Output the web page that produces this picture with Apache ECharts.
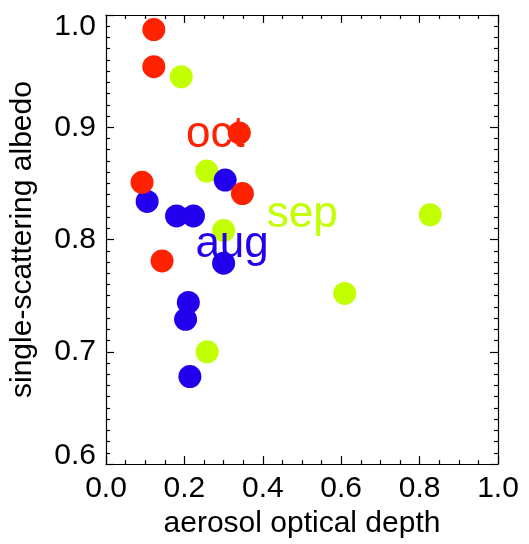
<!DOCTYPE html>
<html>
<head>
<meta charset="utf-8">
<title>single-scattering albedo vs aerosol optical depth</title>
<script src="https://cdn.jsdelivr.net/npm/echarts@6/dist/echarts.min.js"></script>
<style>
  html, body { margin: 0; padding: 0; background: #ffffff; }
  #chart { width: 529px; height: 544px; }
</style>
</head>
<body>
<div id="chart"></div>
<script>
// aerosol optical depth / single-scattering albedo, per month
const augX = [0.304, 0.105, 0.180, 0.223, 0.300, 0.210, 0.203, 0.214];
const augY = [0.853, 0.834, 0.821, 0.821, 0.779, 0.744, 0.729, 0.678];
const sepX = [0.192, 0.257, 0.300, 0.827, 0.609, 0.258];
const sepY = [0.945, 0.861, 0.808, 0.822, 0.752, 0.700];
const octX = [0.122, 0.122, 0.340, 0.092, 0.348, 0.143];
const octY = [0.987, 0.954, 0.895, 0.851, 0.841, 0.781];

// month labels written inside the plot
const labelNames = ['aug', 'sep', 'oct'];
const labelX = [0.228, 0.410, 0.204];
const labelY = [0.795, 0.822, 0.893];

const xTicks = [0, 0.2, 0.4, 0.6, 0.8, 1.0];
const yTicks = [0.6, 0.7, 0.8, 0.9, 1.0];

const RED = '#ff2200';
const GREEN = '#c2ff00';
const BLUE = '#2200ee';
const FONT = '"Liberation Sans", Arial, Helvetica, sans-serif';

const pairs = (xs, ys) => xs.map((x, i) => [x, ys[i]]);

const chart = echarts.init(document.getElementById('chart'), null, { renderer: 'canvas' });

function makeX(pos, showLabels) {
  return {
    type: 'value',
    position: pos,
    min: xTicks[0],
    max: xTicks[xTicks.length - 1],
    interval: 0.2,
    splitLine: { show: false },
    axisLine: { show: true, onZero: false, lineStyle: { color: '#000', width: 1.2 } },
    axisTick: { show: true, inside: true, length: 8, lineStyle: { color: '#000', width: 1.2 } },
    minorTick: { show: true, splitNumber: 4, length: 4, lineStyle: { color: '#000', width: 1.2 } },
    axisLabel: {
      show: showLabels,
      margin: 10,
      fontSize: 30,
      fontFamily: FONT,
      color: '#000',
      formatter: v => v.toFixed(1)
    },
    name: showLabels ? 'aerosol optical depth' : '',
    nameLocation: 'middle',
    nameGap: 43,
    nameTextStyle: { fontSize: 30, fontFamily: FONT, color: '#000' }
  };
}

function makeY(pos, showLabels) {
  return {
    type: 'value',
    position: pos,
    min: yTicks[0],
    max: yTicks[yTicks.length - 1],
    interval: 0.1,
    splitLine: { show: false },
    axisLine: { show: true, onZero: false, lineStyle: { color: '#000', width: 1.2 } },
    axisTick: { show: true, inside: true, length: 8, lineStyle: { color: '#000', width: 1.2 } },
    minorTick: { show: true, splitNumber: 10, length: 4, lineStyle: { color: '#000', width: 1.2 } },
    axisLabel: {
      show: showLabels,
      margin: 10,
      fontSize: 30,
      fontFamily: FONT,
      color: '#000',
      formatter: v => {
        const s = v.toFixed(1);
        if (v > 0.999) return '{top|' + s + '}';
        if (v < 0.601) return '{bot|' + s + '}';
        return s;
      },
      rich: {
        top: { fontSize: 30, fontFamily: FONT, color: '#000', padding: [24, 0, 0, 0] },
        bot: { fontSize: 30, fontFamily: FONT, color: '#000', padding: [0, 0, 16, 0] }
      }
    },
    name: showLabels ? 'single-scattering albedo' : '',
    nameLocation: 'middle',
    nameGap: 68,
    nameTextStyle: { fontSize: 30, fontFamily: FONT, color: '#000' }
  };
}

function dots(data, color, z) {
  return {
    type: 'scatter',
    data: data,
    symbol: 'circle',
    symbolSize: 23,
    z: z,
    itemStyle: { color: color, opacity: 1 },
    emphasis: { disabled: true },
    silent: true
  };
}

const labelColors = [BLUE, GREEN, RED];

const option = {
  animation: false,
  backgroundColor: '#ffffff',
  grid: { left: 106, right: 31, top: 15, bottom: 77 },
  xAxis: [makeX('bottom', true), makeX('top', false)],
  yAxis: [makeY('left', true), makeY('right', false)],
  series: [
    dots(pairs(sepX, sepY), GREEN, 2),
    dots(pairs(augX, augY), BLUE, 3),
    {
      type: 'scatter',
      z: 4,
      silent: true,
      symbol: 'circle',
      symbolSize: 0,
      emphasis: { disabled: true },
      data: labelNames.map((n, i) => ({
        value: [labelX[i], labelY[i]],
        itemStyle: { color: labelColors[i] },
        label: { color: labelColors[i] }
      })),
      label: {
        show: true,
        position: 'right',
        distance: 0,
        align: 'left',
        verticalAlign: 'middle',
        fontSize: 44,
        fontFamily: FONT,
        opacity: 1,
        textBorderWidth: 0,
        textBorderColor: 'transparent',
        formatter: p => labelNames[p.dataIndex]
      }
    },
    dots(pairs(octX, octY), RED, 5)
  ]
};

chart.setOption(option);
</script>
</body>
</html>
